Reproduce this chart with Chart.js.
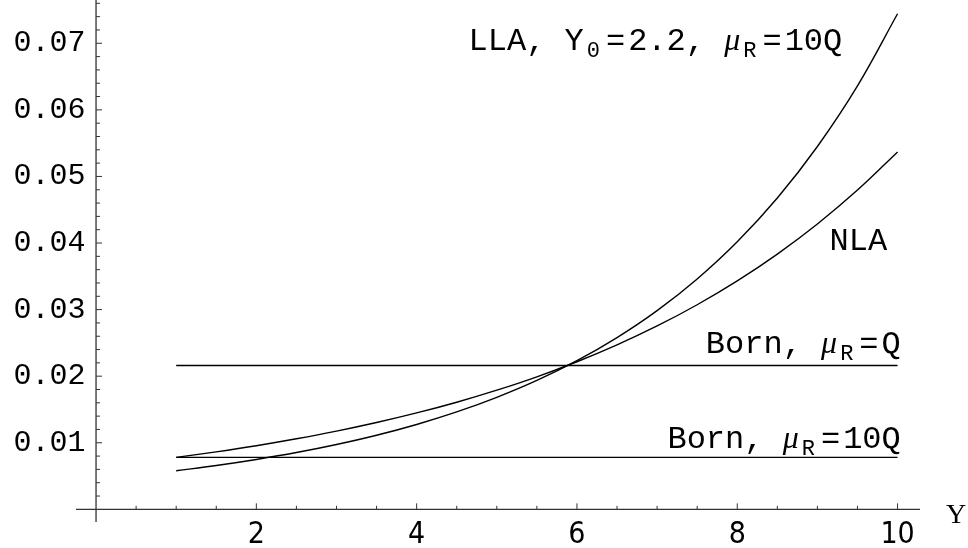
<!DOCTYPE html>
<html>
<head>
<meta charset="utf-8">
<script src="https://cdn.jsdelivr.net/npm/chart.js@4.4.0/dist/chart.umd.min.js"></script>
<style>
  html, body { margin: 0; padding: 0; background: #fff; }
  #wrap { width: 968px; height: 548px; }
</style>
</head>
<body>
<div id="wrap"><canvas id="plot"></canvas></div>
<script>
// rapidity Y on the x axis
const rapidity = [1, 1.5, 2, 2.5, 3, 3.5, 4, 4.5, 5, 5.5, 6, 6.5, 7, 7.5, 8, 8.5, 9, 9.5, 10];
const nlaValues = [0.0078, 0.00864, 0.00956, 0.0106, 0.01175, 0.01304, 0.01448, 0.01609, 0.0179, 0.01991,
  0.02217, 0.0247, 0.02754, 0.03073, 0.03431, 0.03834, 0.04286, 0.04795, 0.05368];
const llaValues = [0.0058, 0.00658, 0.00749, 0.00853, 0.00974, 0.01113, 0.01275, 0.01463, 0.01682, 0.01936,
  0.02233, 0.0258, 0.02985, 0.03461, 0.04019, 0.04676, 0.0545, 0.0636, 0.07444];
const bornX = [1, 10];
const bornQValues = [0.0216, 0.0216];
const born10QValues = [0.0078, 0.0078];

const xTickLabels = [2, 4, 6, 8, 10];
const xMinorTicks = [0.5, 1, 1.5, 2.5, 3, 3.5, 4.5, 5, 5.5, 6.5, 7, 7.5, 8.5, 9, 9.5];
const yTickLabels = [0.01, 0.02, 0.03, 0.04, 0.05, 0.06, 0.07];
const yMinorTicks = [0.002, 0.004, 0.006, 0.008, 0.012, 0.014, 0.016, 0.018, 0.022, 0.024, 0.026, 0.028,
  0.032, 0.034, 0.036, 0.038, 0.042, 0.044, 0.046, 0.048, 0.052, 0.054, 0.056, 0.058,
  0.062, 0.064, 0.066, 0.068, 0.072, 0.074, 0.076];

// curve labels: [text, kind]  n = normal, s = subscript, g = greek italic, o = operator
const llaLabel = [["LLA, Y", "n"], ["0", "s"], ["=", "o"], ["2.2, ", "n"], ["\u03bc", "g"], ["R", "s"], ["=", "o"], ["10Q", "n"]];
const nlaLabel = [["NLA", "n"]];
const bornQLabel = [["Born, ", "n"], ["\u03bc", "g"], ["R", "s"], ["=", "o"], ["Q", "n"]];
const born10QLabel = [["Born, ", "n"], ["\u03bc", "g"], ["R", "s"], ["=", "o"], ["10Q", "n"]];

const toPoints = (xs, ys) => xs.map((x, i) => ({ x: x, y: ys[i] }));

const lineStyle = {
  borderColor: "#000",
  borderWidth: 1.4,
  pointRadius: 0,
  fill: false,
  tension: 0.4,
};

const monoFont = "'Liberation Mono', 'DejaVu Sans Mono', monospace";

const fonts = {
  n: "32px " + monoFont,
  o: "32px " + monoFont,
  s: "22px " + monoFont,
  g: "italic 32px 'Liberation Serif', 'DejaVu Serif', serif",
};
const margins = { n: [0, 0], o: [3, 3], s: [3, 3], g: [0, 0] };

const drawRich = (ctx, parts, xRight, yBase) => {
  let total = 0;
  parts.forEach(([t, k]) => {
    ctx.font = fonts[k];
    total += ctx.measureText(t).width + margins[k][0] + margins[k][1];
  });
  let x = xRight - total;
  parts.forEach(([t, k]) => {
    ctx.font = fonts[k];
    x += margins[k][0];
    ctx.fillText(t, x, k === "s" ? yBase + 7 : yBase);
    x += ctx.measureText(t).width + margins[k][1];
  });
};

const axesPlugin = {
  id: "mathAxes",
  beforeDatasetsDraw(chart) {
    const { ctx, chartArea, scales } = chart;
    const xs = scales.x;
    const ys = scales.y;
    const x0 = xs.getPixelForValue(0);
    const y0 = ys.getPixelForValue(0);
    ctx.save();
    ctx.strokeStyle = "#333";
    ctx.lineWidth = 1.3;
    ctx.beginPath();
    ctx.moveTo(chartArea.left, y0);
    ctx.lineTo(chartArea.right, y0);
    ctx.moveTo(x0, chartArea.top);
    ctx.lineTo(x0, chartArea.bottom);
    ctx.stroke();

    ctx.lineWidth = 1;
    ctx.beginPath();
    xTickLabels.forEach((v) => {
      const p = xs.getPixelForValue(v);
      ctx.moveTo(p, y0);
      ctx.lineTo(p, y0 - 6);
    });
    xMinorTicks.forEach((v) => {
      const p = xs.getPixelForValue(v);
      ctx.moveTo(p, y0);
      ctx.lineTo(p, y0 - 3.5);
    });
    yTickLabels.forEach((v) => {
      const p = ys.getPixelForValue(v);
      ctx.moveTo(x0, p);
      ctx.lineTo(x0 + 6, p);
    });
    yMinorTicks.forEach((v) => {
      const p = ys.getPixelForValue(v);
      ctx.moveTo(x0, p);
      ctx.lineTo(x0 + 4, p);
    });
    ctx.stroke();
    ctx.restore();
  },
  afterDatasetsDraw(chart) {
    const { ctx, scales } = chart;
    const xs = scales.x;
    const ys = scales.y;
    ctx.save();
    ctx.fillStyle = "#000";
    ctx.textBaseline = "alphabetic";
    ctx.textAlign = "left";
    drawRich(ctx, llaLabel, xs.getPixelForValue(9.31), ys.getPixelForValue(0.069));
    drawRich(ctx, nlaLabel, xs.getPixelForValue(9.87), ys.getPixelForValue(0.0389));
    drawRich(ctx, bornQLabel, xs.getPixelForValue(10.04), ys.getPixelForValue(0.0235));
    drawRich(ctx, born10QLabel, xs.getPixelForValue(10.04), ys.getPixelForValue(0.00916));

    // axis name at the end of the x axis
    ctx.font = "28px 'Liberation Serif', 'DejaVu Serif', serif";
    ctx.textAlign = "center";
    ctx.fillText("Y", xs.getPixelForValue(10.73), ys.getPixelForValue(0) + 14);
    ctx.restore();
  },
};

new Chart(document.getElementById("plot"), {
  type: "line",
  data: {
    datasets: [
      { ...lineStyle, label: "LLA", data: toPoints(rapidity, llaValues) },
      { ...lineStyle, label: "NLA", data: toPoints(rapidity, nlaValues) },
      { ...lineStyle, label: "Born Q", data: toPoints(bornX, bornQValues) },
      { ...lineStyle, label: "Born 10Q", data: toPoints(bornX, born10QValues) },
    ],
  },
  options: {
    responsive: true,
    maintainAspectRatio: false,
    animation: false,
    layout: { padding: { left: 76, right: 48, top: 0, bottom: 26 } },
    plugins: {
      legend: { display: false },
      tooltip: { enabled: false },
    },
    scales: {
      x: {
        type: "linear",
        min: -0.25,
        max: 10.28,
        position: { y: 0.0004 },
        grid: { display: false },
        border: { display: false },
        afterBuildTicks: (scale) => {
          scale.ticks = xTickLabels.map((v) => ({ value: v }));
        },
        afterFit: (scale) => {
          scale.paddingLeft = 0;
          scale.paddingRight = 0;
        },
        ticks: {
          color: "#000",
          maxRotation: 0,
          autoSkip: false,
          font: { family: "'Liberation Sans Narrow', 'DejaVu Sans Condensed', 'DejaVu Sans', sans-serif", size: 30 },
          callback: (v) => String(v),
        },
      },
      y: {
        type: "linear",
        min: -0.0019,
        max: 0.0765,
        position: { x: -0.13 },
        grid: { display: false },
        border: { display: false },
        afterBuildTicks: (scale) => {
          scale.ticks = yTickLabels.map((v) => ({ value: v }));
        },
        afterFit: (scale) => {
          scale.paddingTop = 0;
          scale.paddingBottom = 0;
        },
        ticks: {
          color: "#000",
          autoSkip: false,
          font: { family: monoFont, size: 30 },
          callback: (v) => v.toFixed(2),
        },
      },
    },
  },
  plugins: [axesPlugin],
});
</script>
</body>
</html>
